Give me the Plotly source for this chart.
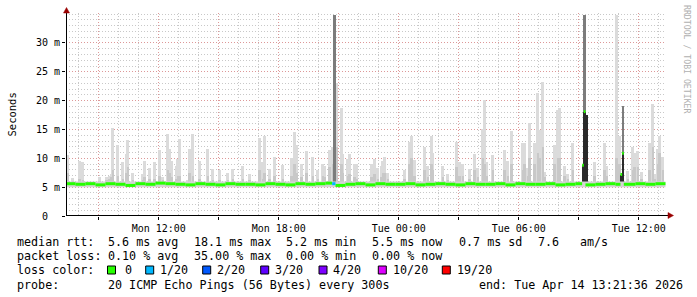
import plotly.graph_objects as go

# ---------------- data ----------------
spike_time = [
    "2026-04-13 07:25", "2026-04-13 07:40", "2026-04-13 08:00", "2026-04-13 08:10", "2026-04-13 09:00",
    "2026-04-13 09:20", "2026-04-13 09:30", "2026-04-13 09:35", "2026-04-13 09:40", "2026-04-13 09:55",
    "2026-04-13 10:10", "2026-04-13 10:20", "2026-04-13 10:25", "2026-04-13 10:40", "2026-04-13 11:10",
    "2026-04-13 11:15", "2026-04-13 11:30", "2026-04-13 11:45", "2026-04-13 12:00", "2026-04-13 12:10",
    "2026-04-13 12:25", "2026-04-13 12:30", "2026-04-13 12:35", "2026-04-13 12:50", "2026-04-13 12:55",
    "2026-04-13 13:00", "2026-04-13 13:25", "2026-04-13 13:30", "2026-04-13 13:40", "2026-04-13 14:00",
    "2026-04-13 14:25", "2026-04-13 14:40", "2026-04-13 15:00", "2026-04-13 15:25", "2026-04-13 15:40",
    "2026-04-13 16:10", "2026-04-13 16:30", "2026-04-13 17:00", "2026-04-13 17:10", "2026-04-13 17:15",
    "2026-04-13 17:30", "2026-04-13 17:45", "2026-04-13 18:10", "2026-04-13 18:35", "2026-04-13 18:45",
    "2026-04-13 18:50", "2026-04-13 19:05", "2026-04-13 19:20", "2026-04-13 19:40", "2026-04-13 19:55",
    "2026-04-13 20:10", "2026-04-13 20:15", "2026-04-13 20:30", "2026-04-13 20:40", "2026-04-13 20:45",
    "2026-04-13 20:50", "2026-04-13 21:05", "2026-04-13 21:10", "2026-04-13 21:25", "2026-04-13 21:30",
    "2026-04-13 21:45", "2026-04-13 21:50", "2026-04-13 22:35", "2026-04-13 22:45", "2026-04-13 22:55",
    "2026-04-13 23:05", "2026-04-13 23:10", "2026-04-13 23:15", "2026-04-13 23:25",
    "2026-04-14 00:15", "2026-04-14 00:30", "2026-04-14 00:35", "2026-04-14 00:45", "2026-04-14 01:15",
    "2026-04-14 01:25", "2026-04-14 01:35", "2026-04-14 01:40", "2026-04-14 02:10", "2026-04-14 02:25",
    "2026-04-14 02:50", "2026-04-14 03:00", "2026-04-14 03:10", "2026-04-14 03:30", "2026-04-14 03:45",
    "2026-04-14 03:55", "2026-04-14 04:10", "2026-04-14 04:15", "2026-04-14 04:20", "2026-04-14 04:40",
    "2026-04-14 05:15", "2026-04-14 05:25", "2026-04-14 05:35", "2026-04-14 06:10", "2026-04-14 06:15",
    "2026-04-14 06:25", "2026-04-14 06:30", "2026-04-14 06:45", "2026-04-14 06:55", "2026-04-14 07:00",
    "2026-04-14 07:10", "2026-04-14 07:15", "2026-04-14 07:45", "2026-04-14 07:55", "2026-04-14 08:00",
    "2026-04-14 08:15", "2026-04-14 08:25", "2026-04-14 08:40", "2026-04-14 09:45", "2026-04-14 10:15",
    "2026-04-14 10:20", "2026-04-14 10:50", "2026-04-14 11:00", "2026-04-14 11:25", "2026-04-14 11:40",
    "2026-04-14 11:45", "2026-04-14 11:55", "2026-04-14 12:05", "2026-04-14 12:30", "2026-04-14 12:40",
    "2026-04-14 12:45", "2026-04-14 12:55", "2026-04-14 13:00", "2026-04-14 13:10",
]
spike_max_ms = [
    10.5, 6.6, 9.6, 9.4, 6.8, 6.8, 6.9, 7.3, 15.2, 12.3, 9.4, 10.8, 13.1, 7.4, 7.2, 9.5, 8.4, 9.3, 11.5, 6.8,
    14.2, 11.6, 9.5, 8.6, 9.8, 13.3, 6.2, 11.7, 14.2, 9.6, 11.7, 8.1, 7.9, 7.4, 8.1, 8.6, 7.3, 13.5, 9.3, 13.9,
    8.1, 10.3, 8.8, 10.1, 14.6, 12.3, 9.1, 11.2, 10.3, 7.9, 9.1, 8.6, 11.5, 12.0, 34.9, 23.0, 18.7, 10.8, 9.8, 10.8,
    9.0, 9.1, 9.0, 9.8, 8.3, 8.6, 9.6, 10.3, 7.5,
    7.9, 12.9, 13.8, 9.7, 12.0, 8.6, 13.9, 11.0, 8.6, 7.3, 12.9, 9.4, 9.0, 8.2, 10.7, 8.4, 15.1, 20.1, 9.4, 10.6,
    11.5, 9.5, 14.7, 12.6, 12.7, 8.3, 16.1, 12.6, 21.3, 14.9, 23.3, 7.6, 12.3, 18.4, 18.7, 8.6, 7.2, 12.6, 9.4, 12.6,
    8.7, 34.9, 13.8, 7.8, 12.0, 11.0, 11.3, 7.6, 12.6, 19.4, 7.3, 11.6, 13.8, 10.3,
]
spike_mid_ms = [
    7.5, 6.0, 6.5, 6.2, 6.0, 6.3, 6.4, 6.8, 8.0, 7.0, 6.5, 7.5, 8.5, 6.2, 6.2, 6.8, 6.5, 6.4, 7.0, 6.2,
    8.0, 7.5, 6.8, 6.5, 7.0, 7.0, 5.9, 7.5, 7.0, 6.5, 7.0, 6.3, 6.2, 6.2, 6.5, 6.5, 6.2, 8.0, 6.5, 7.5,
    6.5, 7.0, 6.5, 7.0, 9.0, 7.5, 6.8, 7.5, 7.0, 6.5, 7.0, 6.8, 8.5, 9.0, 12.0, 12.0, 9.0, 7.5, 7.0, 7.2,
    6.8, 6.5, 6.8, 7.2, 6.5, 6.8, 7.5, 7.5, 6.5,
    6.5, 9.0, 10.0, 7.0, 8.0, 6.8, 9.0, 8.0, 6.8, 6.2, 8.5, 7.0, 7.0, 6.5, 8.0, 6.8, 10.0, 9.0, 7.0, 8.0,
    8.0, 7.0, 9.0, 8.0, 9.0, 7.0, 10.0, 9.0, 11.0, 10.0, 12.0, 6.8, 9.0, 10.0, 10.0, 7.0, 6.5, 8.0, 7.0, 8.0,
    7.0, 10.0, 9.0, 6.5, 8.0, 8.5, 8.5, 6.5, 8.0, 12.0, 6.5, 9.0, 11.0, 8.0,
]

# dense (dark) smoke at the loss events
event_time = ["2026-04-13 20:45", "2026-04-14 09:10", "2026-04-14 09:15", "2026-04-14 09:20",
              "2026-04-14 11:05", "2026-04-14 11:10"]
event_upper_ms = [34.9, 8.9, 34.9, 17.5, 7.1, 19.0]
event_core_ms = [5.6, 8.9, 18.1, 17.5, 7.1, 10.9]

# median rtt with loss level index
median_time = [
    "2026-04-13 07:20", "2026-04-13 07:50", "2026-04-13 08:20", "2026-04-13 08:50", "2026-04-13 09:20",
    "2026-04-13 09:50", "2026-04-13 10:20", "2026-04-13 10:50", "2026-04-13 11:20", "2026-04-13 11:50",
    "2026-04-13 12:20", "2026-04-13 12:50", "2026-04-13 13:20", "2026-04-13 13:50", "2026-04-13 14:20",
    "2026-04-13 14:50", "2026-04-13 15:20", "2026-04-13 15:50", "2026-04-13 16:20", "2026-04-13 16:50",
    "2026-04-13 17:20", "2026-04-13 17:50", "2026-04-13 18:20", "2026-04-13 18:50", "2026-04-13 19:20",
    "2026-04-13 19:50", "2026-04-13 20:20", "2026-04-13 20:40", "2026-04-13 20:50", "2026-04-13 21:20",
    "2026-04-13 21:50", "2026-04-13 22:20", "2026-04-13 22:50", "2026-04-13 23:20", "2026-04-13 23:50",
    "2026-04-14 00:20", "2026-04-14 00:50", "2026-04-14 01:20", "2026-04-14 01:50", "2026-04-14 02:20",
    "2026-04-14 02:50", "2026-04-14 03:20", "2026-04-14 03:50", "2026-04-14 04:20", "2026-04-14 04:50",
    "2026-04-14 05:20", "2026-04-14 05:50", "2026-04-14 06:20", "2026-04-14 06:50", "2026-04-14 07:20",
    "2026-04-14 07:50", "2026-04-14 08:20", "2026-04-14 08:50", "2026-04-14 09:10", "2026-04-14 09:15",
    "2026-04-14 09:20", "2026-04-14 09:50", "2026-04-14 10:20", "2026-04-14 10:50", "2026-04-14 11:05",
    "2026-04-14 11:10", "2026-04-14 11:15", "2026-04-14 11:50", "2026-04-14 12:20", "2026-04-14 12:50",
    "2026-04-14 13:20",
]
median_ms = [
    5.6, 5.5, 5.6, 5.4, 5.6, 5.5, 5.3, 5.6, 5.5, 5.7, 5.6, 5.5, 5.4, 5.6, 5.5, 5.4, 5.6, 5.5, 5.5, 5.4,
    5.6, 5.5, 5.4, 5.6, 5.5, 5.6, 5.7, 5.6, 5.3, 5.5, 5.6, 5.4, 5.6, 5.5, 5.5,
    5.6, 5.4, 5.5, 5.6, 5.5, 5.4, 5.6, 5.5, 5.5, 5.6, 5.4, 5.6, 5.5, 5.5, 5.6, 5.4, 5.5, 5.6, 8.8, 18.1,
    5.4, 5.5, 5.6, 5.5, 7.2, 10.9, 5.5, 5.6, 5.5, 5.6, 5.5,
]
median_loss = [0] * 27 + [1] + [0] * 38

smoke_floor_ms = 5.0
smoke_band_top_ms = 6.0

loss_labels = ["0", "1/20", "2/20", "3/20", "4/20", "10/20", "19/20"]
loss_colors = ["#26ff00", "#00b8ff", "#0059ff", "#5e00ff", "#7e00ff", "#dd00ff", "#ff0000"]

y_tick_vals = [0, 5, 10, 15, 20, 25, 30]
y_tick_text = ["0\u00a0\u00a0", "5 m", "10 m", "15 m", "20 m", "25 m", "30 m"]
x_tick_vals = ["2026-04-13 09:00", "2026-04-13 12:00", "2026-04-13 15:00", "2026-04-13 18:00",
               "2026-04-13 21:00", "2026-04-14 00:00", "2026-04-14 03:00", "2026-04-14 06:00",
               "2026-04-14 09:00", "2026-04-14 12:00"]
x_tick_text = ["", "Mon 12:00", "", "Mon 18:00", "", "Tue 00:00", "", "Tue 06:00", "", "Tue 12:00"]

x_start = "2026-04-13 07:21:36"
x_end = "2026-04-14 13:21:36"

legend_rows = [
    ["median rtt:", "5.6 ms avg", "18.1 ms max", "5.2 ms min", "5.5 ms now", "0.7 ms sd", "7.6", "am/s"],
    ["packet loss:", "0.10 % avg", "35.00 % max", "0.00 % min", "0.00 % now"],
    ["loss color:"],
    ["probe:", "20 ICMP Echo Pings (56 Bytes) every 300s", "end: Tue Apr 14 13:21:36 2026"],
]

# ---------------- layout geometry ----------------
W, H = 697, 297
L, R, T, B = 66, 31, 13, 81
PW, PH = W - L - R, H - T - B
MONO = "DejaVu Sans Mono"


def px(x):
    return (x - L) / PW


def py(y):
    return (H - B - y) / PH


STEP_MS = 300000

fig = go.Figure()

# thin smoke band around the median
fig.add_trace(go.Scatter(
    x=[median_time[0], median_time[-1], median_time[-1], median_time[0]],
    y=[smoke_floor_ms, smoke_floor_ms, smoke_band_top_ms, smoke_band_top_ms],
    fill="toself", fillcolor="#d4d4d4", line=dict(width=0), mode="lines",
    hoverinfo="skip", showlegend=False))

# light outer smoke
fig.add_trace(go.Bar(
    x=spike_time, y=[m - smoke_floor_ms for m in spike_max_ms], base=smoke_floor_ms,
    width=STEP_MS * 1.8, offset=-STEP_MS * 0.4, marker=dict(color="#dbdbdb", line=dict(width=0)),
    showlegend=False))
# medium smoke
fig.add_trace(go.Bar(
    x=spike_time, y=[m - smoke_floor_ms for m in spike_mid_ms], base=smoke_floor_ms,
    width=STEP_MS * 1.6, offset=-STEP_MS * 0.3, marker=dict(color="#c8c8c8", line=dict(width=0)),
    showlegend=False))
# dense smoke at loss events
fig.add_trace(go.Bar(
    x=event_time, y=[m - smoke_floor_ms for m in event_upper_ms], base=smoke_floor_ms,
    width=STEP_MS * 1.5, offset=-STEP_MS * 0.2, marker=dict(color="#7c7c7c", line=dict(width=0)),
    showlegend=False))
fig.add_trace(go.Bar(
    x=event_time, y=[m - smoke_floor_ms for m in event_core_ms], base=smoke_floor_ms,
    width=STEP_MS * 1.5, offset=-STEP_MS * 0.2, marker=dict(color="#2a2a2a", line=dict(width=0)),
    showlegend=False))

# median segments coloured by loss
for lvl, col in enumerate(loss_colors):
    xs, ys = [], []
    for i in range(len(median_time) - 1):
        if median_loss[i] == lvl:
            xs += [median_time[i], median_time[i + 1], None]
            ys += [median_ms[i], median_ms[i], None]
    if xs:
        fig.add_trace(go.Scatter(x=xs, y=ys, mode="lines", line=dict(color=col, width=3),
                                 hoverinfo="skip", showlegend=False))

shapes = []
# axis arrows
shapes.append(dict(type="line", xref="paper", yref="paper", x0=px(66.5), x1=px(66.5),
                   y0=py(216), y1=py(12), line=dict(color="black", width=1)))
shapes.append(dict(type="path", xref="paper", yref="paper",
                   path=f"M {px(63.5)} {py(13)} L {px(69.5)} {py(13)} L {px(66.5)} {py(7.5)} Z",
                   fillcolor="#990000", line=dict(color="#990000", width=0.5)))
shapes.append(dict(type="line", xref="paper", yref="paper", x0=px(66), x1=px(669),
                   y0=py(215.5), y1=py(215.5), line=dict(color="black", width=1)))
shapes.append(dict(type="path", xref="paper", yref="paper",
                   path=f"M {px(668)} {py(212.5)} L {px(668)} {py(218.5)} L {px(673.5)} {py(215.5)} Z",
                   fillcolor="#990000", line=dict(color="#990000", width=0.5)))

annotations = []
row_y = [241.5, 256.0, 270.3, 284.5]
row_x = [
    [15.5, 106.5, 193.3, 285.3, 371.3, 457.5, 536.5, 578.5],
    [15.5, 106.5, 193.3, 285.3, 371.3],
    [15.5],
    [15.5, 106.5, 477.5],
]
for r, texts in enumerate(legend_rows):
    for t, x in zip(texts, row_x[r]):
        annotations.append(dict(text=t, x=px(x - 1), y=py(row_y[r]), xref="paper", yref="paper",
                                xanchor="left", yanchor="middle", showarrow=False,
                                font=dict(family=MONO, size=11.7, color="black")))

sq_x = [107.5, 145.7, 202.7, 260.7, 319.0, 378.3, 442.3]
lab_x = [123.5, 158.8, 215.5, 273.5, 332.0, 391.5, 455.8]
for lab, col, sx, lx in zip(loss_labels, loss_colors, sq_x, lab_x):
    shapes.append(dict(type="rect", xref="paper", yref="paper", x0=px(sx), x1=px(sx + 8),
                       y0=py(266), y1=py(274), fillcolor=col, line=dict(color="black", width=1)))
    annotations.append(dict(text=lab, x=px(lx - 1), y=py(row_y[2]), xref="paper", yref="paper",
                            xanchor="left", yanchor="middle", showarrow=False,
                            font=dict(family=MONO, size=11.7, color="black")))

annotations.append(dict(text="Seconds", x=px(11), y=py(114.5), xref="paper", yref="paper",
                        textangle=-90, showarrow=False, xanchor="center", yanchor="middle",
                        font=dict(family=MONO, size=10.5, color="black")))
annotations.append(dict(text="RRDTOOL / TOBI OETIKER", x=px(687), y=py(59), xref="paper", yref="paper",
                        textangle=90, showarrow=False, xanchor="center", yanchor="middle",
                        font=dict(family=MONO, size=8.2, color="#b0b0b0")))

GRID_MAJOR = "rgba(235,120,120,0.6)"
GRID_MINOR = "#c8c8c8"

fig.update_layout(
    width=W, height=H, margin=dict(l=L, r=R, t=T, b=B, pad=0),
    paper_bgcolor="white", plot_bgcolor="white", barmode="overlay", bargap=0,
    showlegend=False, shapes=shapes, annotations=annotations,
    xaxis=dict(type="date", range=[x_start, x_end], tickmode="array", tickvals=x_tick_vals,
               ticktext=x_tick_text, showgrid=True, gridcolor=GRID_MAJOR,
               griddash="1px,2px", gridwidth=1, showline=False, zeroline=False,
               ticks="outside", ticklen=3, tickcolor="black",
               tickfont=dict(family=MONO, size=10, color="black"),
               minor=dict(dtick=3600000, tick0="2026-04-13 00:00", showgrid=True,
                          gridcolor=GRID_MINOR, griddash="1px,2px", gridwidth=1, ticks="")),
    yaxis=dict(range=[0, 35.2], tickmode="array", tickvals=y_tick_vals, ticktext=y_tick_text,
               showgrid=True, gridcolor=GRID_MAJOR, griddash="1px,2px", gridwidth=1,
               showline=False, zeroline=False, ticks="outside", ticklen=3, tickcolor="black",
               tickfont=dict(family=MONO, size=10, color="black"),
               minor=dict(dtick=1, showgrid=True, gridcolor=GRID_MINOR, griddash="1px,2px",
                          gridwidth=1, ticks="")),
)

fig.write_html("out.html")
